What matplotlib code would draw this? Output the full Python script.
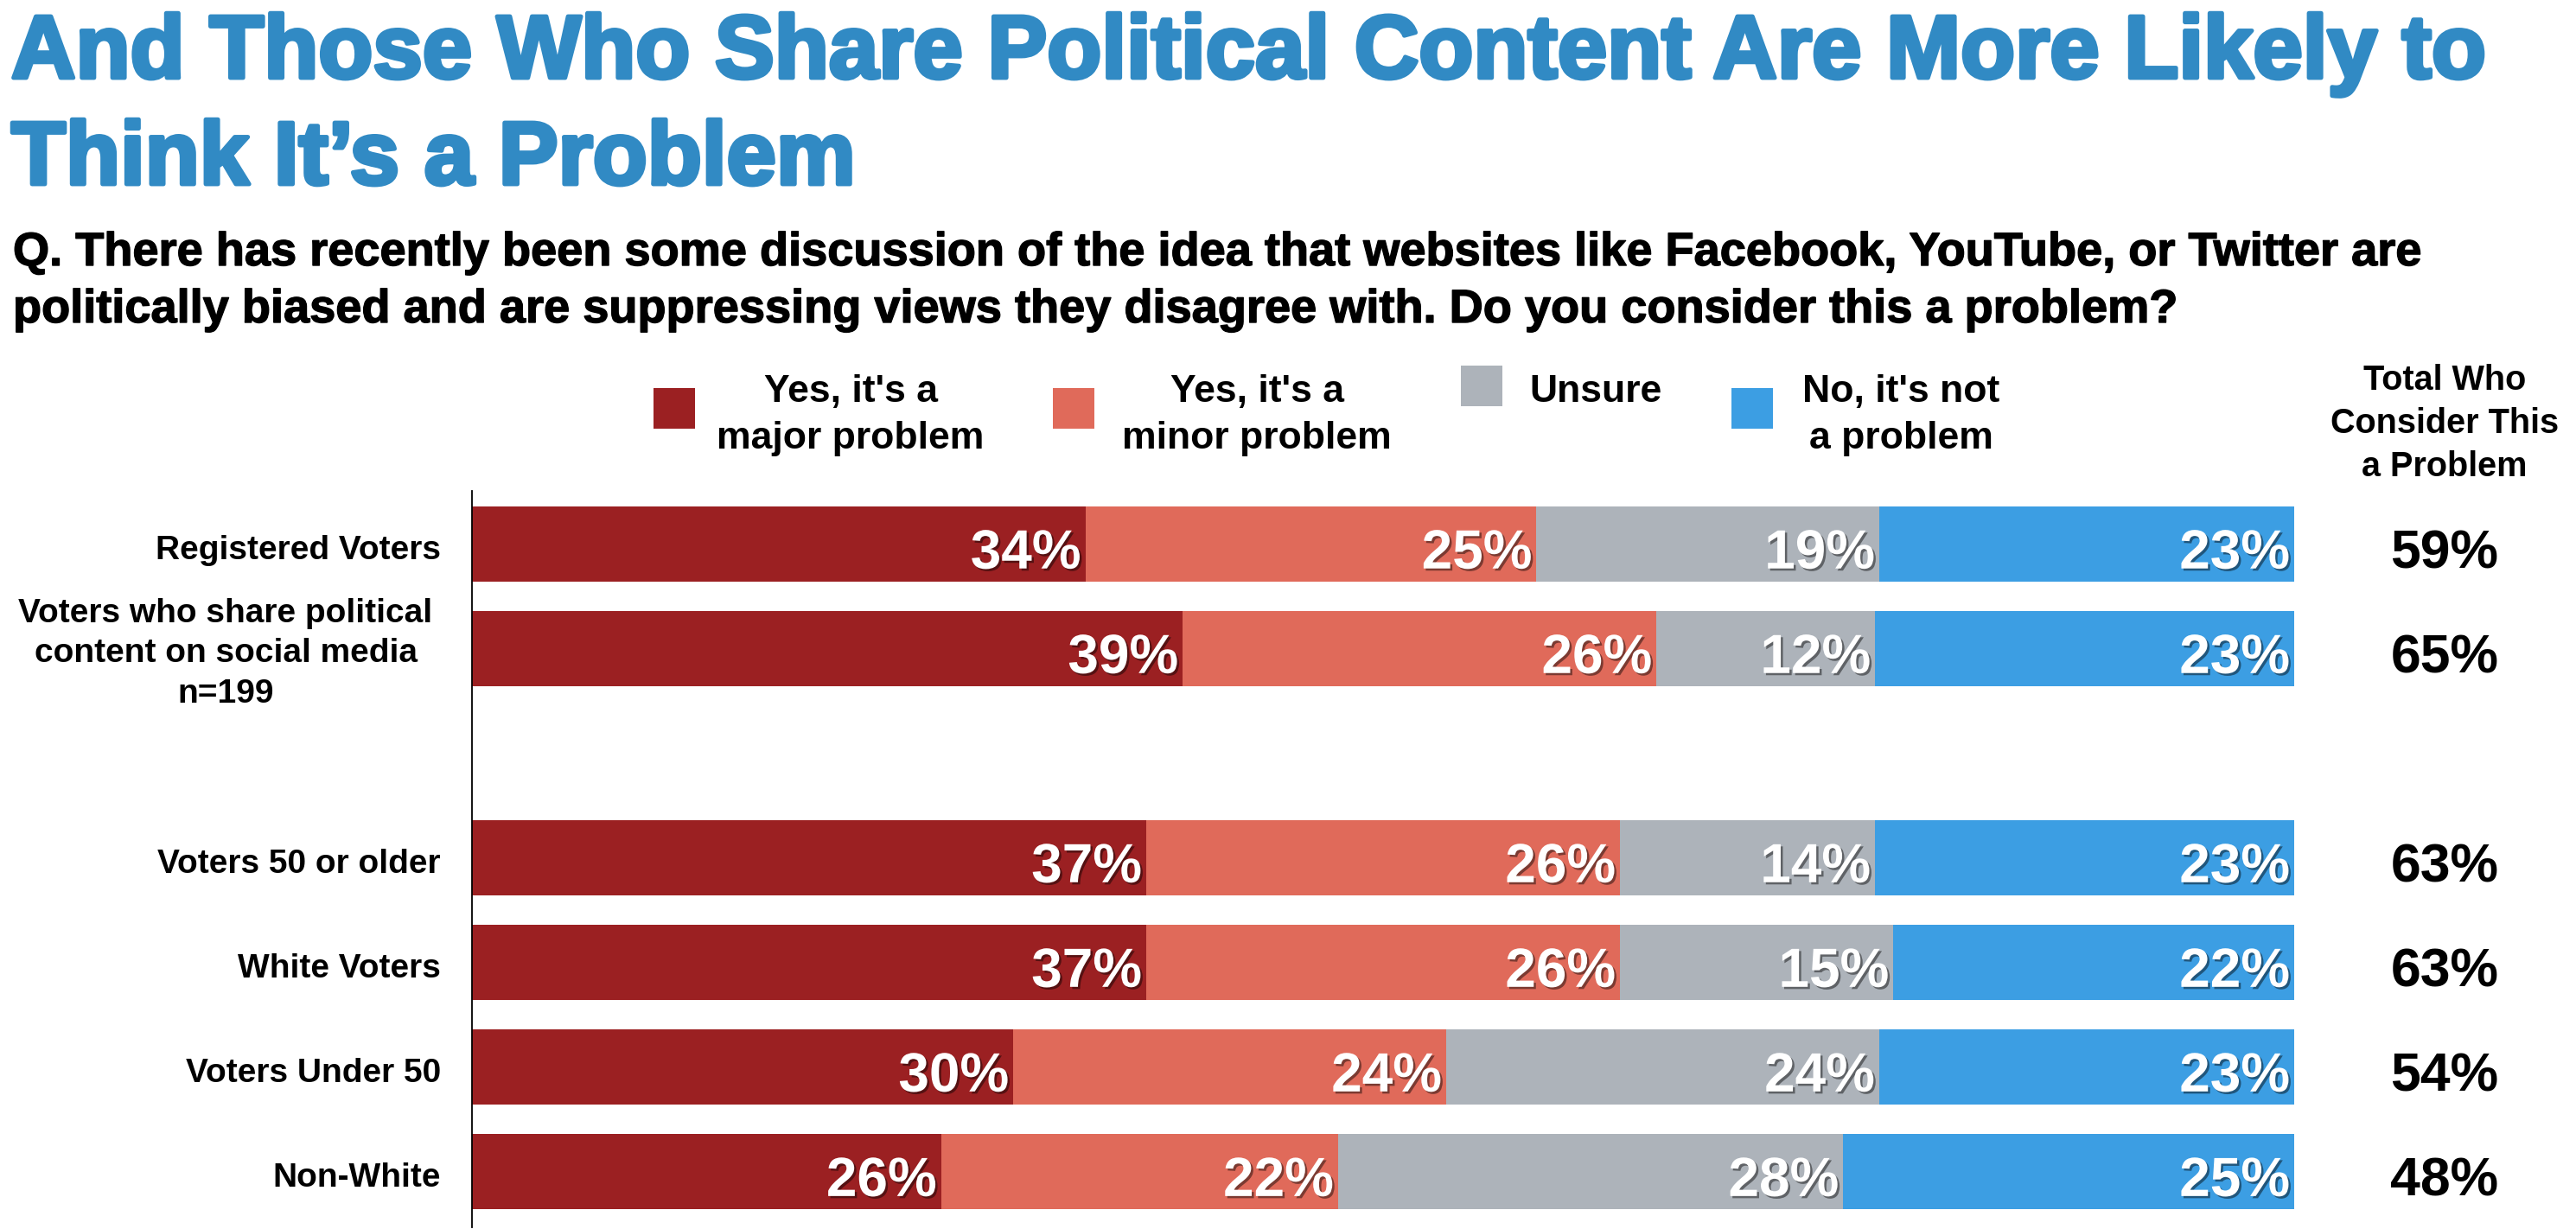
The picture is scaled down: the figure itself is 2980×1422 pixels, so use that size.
import matplotlib
matplotlib.use('Agg')
import matplotlib.pyplot as plt
from matplotlib.patches import Rectangle
import matplotlib.transforms as mtransforms
import matplotlib.patheffects as pe
import numpy as np

# ---------------- data ----------------
categories = ["Registered Voters",
              "Voters who share political\ncontent on social media\nn=199",
              "Voters 50 or older",
              "White Voters",
              "Voters Under 50",
              "Non-White"]
positions = [0, 1, 3, 4, 5, 6]
major = [34, 39, 37, 37, 30, 26]
minor = [25, 26, 26, 26, 24, 22]
unsure = [19, 12, 14, 15, 24, 28]
no_problem = [23, 23, 23, 22, 23, 25]
totals = [59, 65, 63, 63, 54, 48]
series_names = ["Yes, it's a\nmajor problem", "Yes, it's a\nminor problem",
                "Unsure", "No, it's not\na problem"]
totals_header = "Total Who\nConsider This\na Problem"
title = "And Those Who Share Political Content Are More Likely to\nThink It\u2019s a Problem"
subtitle = ("Q. There has recently been some discussion of the idea that websites like Facebook, YouTube, or Twitter are\n"
            "politically biased and are suppressing views they disagree with. Do you consider this a problem?")
colors = ["#9B2022", "#E06A5A", "#ADB3BA", "#3C9EE3"]
title_color = "#318AC4"

# ---------------- figure ----------------
W, H = 2980, 1422
plt.rcParams['font.family'] = ['Liberation Sans', 'DejaVu Sans']
plt.rcParams['font.weight'] = 'bold'
fig = plt.figure(figsize=(W / 100, H / 100), dpi=100)
fig.patch.set_facecolor('white')


def fx(x):
    return x / W


def fy(y):
    return 1 - y / H


def multiline(text, x, y0, step, **kw):
    for i, line in enumerate(text.split('\n')):
        fig.text(fx(x), fy(y0 + i * step), line, va='baseline', **kw)


# title & subtitle
title_fx = [pe.withStroke(linewidth=3.5, foreground=title_color)]
multiline(title, 13, 90, 123, fontsize=74.3, color=title_color, fontweight='bold', ha='left',
          path_effects=title_fx)
sub_fx = [pe.withStroke(linewidth=1.0, foreground='black')]
multiline(subtitle, 15, 307, 66, fontsize=39, color='black', fontweight='bold', ha='left',
          path_effects=sub_fx)

# axes
ax_left, ax_right, ax_top, ax_bottom = 546, 2654, 568, 1420
ax = fig.add_axes([fx(ax_left), fy(ax_bottom), (ax_right - ax_left) / W, (ax_bottom - ax_top) / H])
ax.set_xlim(0, 100)
ax.set_ylim(6.53, -0.51)
for s in ['top', 'right', 'bottom']:
    ax.spines[s].set_visible(False)
ax.spines['left'].set_linewidth(1.3)
ax.spines['left'].set_color('black')
ax.set_xticks([])
ax.set_yticks([])
ax.patch.set_alpha(0)

data = np.array([major, minor, unsure, no_problem], dtype=float)
row_sums = data.sum(axis=0)
shares = data / row_sums * 100
px_per_unit = (ax_bottom - ax_top) / (6.53 + 0.51)

left = np.zeros(len(positions))
shadow = [pe.withSimplePatchShadow(offset=(1.8, -1.8), shadow_rgbFace='black', alpha=0.45)]
label_tr = mtransforms.offset_copy(ax.transData, fig=fig, x=-5, y=0, units='dots')
base_off = 28 / px_per_unit
for k in range(4):
    ax.barh(positions, shares[k], left=left, height=0.72, color=colors[k], linewidth=0)
    for i, p in enumerate(positions):
        ax.text(left[i] + shares[k][i], p + base_off, f"{int(data[k][i])}%",
                ha='right', va='baseline', fontsize=46, color='white',
                fontweight='bold', transform=label_tr, path_effects=shadow)
    left = left + shares[k]

# totals column
blend = mtransforms.blended_transform_factory(fig.transFigure, ax.transData)
for i, p in enumerate(positions):
    ax.text(fx(2828), p + base_off, f"{totals[i]}%", ha='center', va='baseline',
            fontsize=45, color='black', fontweight='bold', transform=blend, clip_on=False)

# row labels
for i, p in enumerate(positions):
    lab = categories[i]
    lines = lab.split('\n')
    if len(lines) == 1:
        ax.text(fx(510), p + 17 / px_per_unit, lab, ha='right', va='baseline', fontsize=28,
                color='black', fontweight='bold', transform=blend, clip_on=False)
    else:
        for j, line in enumerate(lines):
            ax.text(fx(261), p + (-31 + j * 46.5) / px_per_unit, line, ha='center', va='baseline',
                    fontsize=28, color='black', fontweight='bold', transform=blend, clip_on=False)

# legend (manual)
legend_items = [
    # square x, square y_top, text x, text align, first baseline
    (756, 449, 984, 'center', 465),
    (1218, 449, 1454, 'center', 465),
    (1690, 423, 1769, 'left', 465),
    (2003, 449, 2199, 'center', 465),
]
for k, (sx, sy, tx, al, tb) in enumerate(legend_items):
    fig.patches.append(Rectangle((fx(sx), fy(sy + 47)), 48 / W, 47 / H, transform=fig.transFigure,
                                 facecolor=colors[k], edgecolor='none'))
    multiline(series_names[k], tx, tb, 54, fontsize=32, color='black', fontweight='bold', ha=al)

multiline(totals_header, 2828, 451, 50, fontsize=28.5, color='black', fontweight='bold', ha='center')

fig.savefig('out.png', dpi=100, facecolor='white')
